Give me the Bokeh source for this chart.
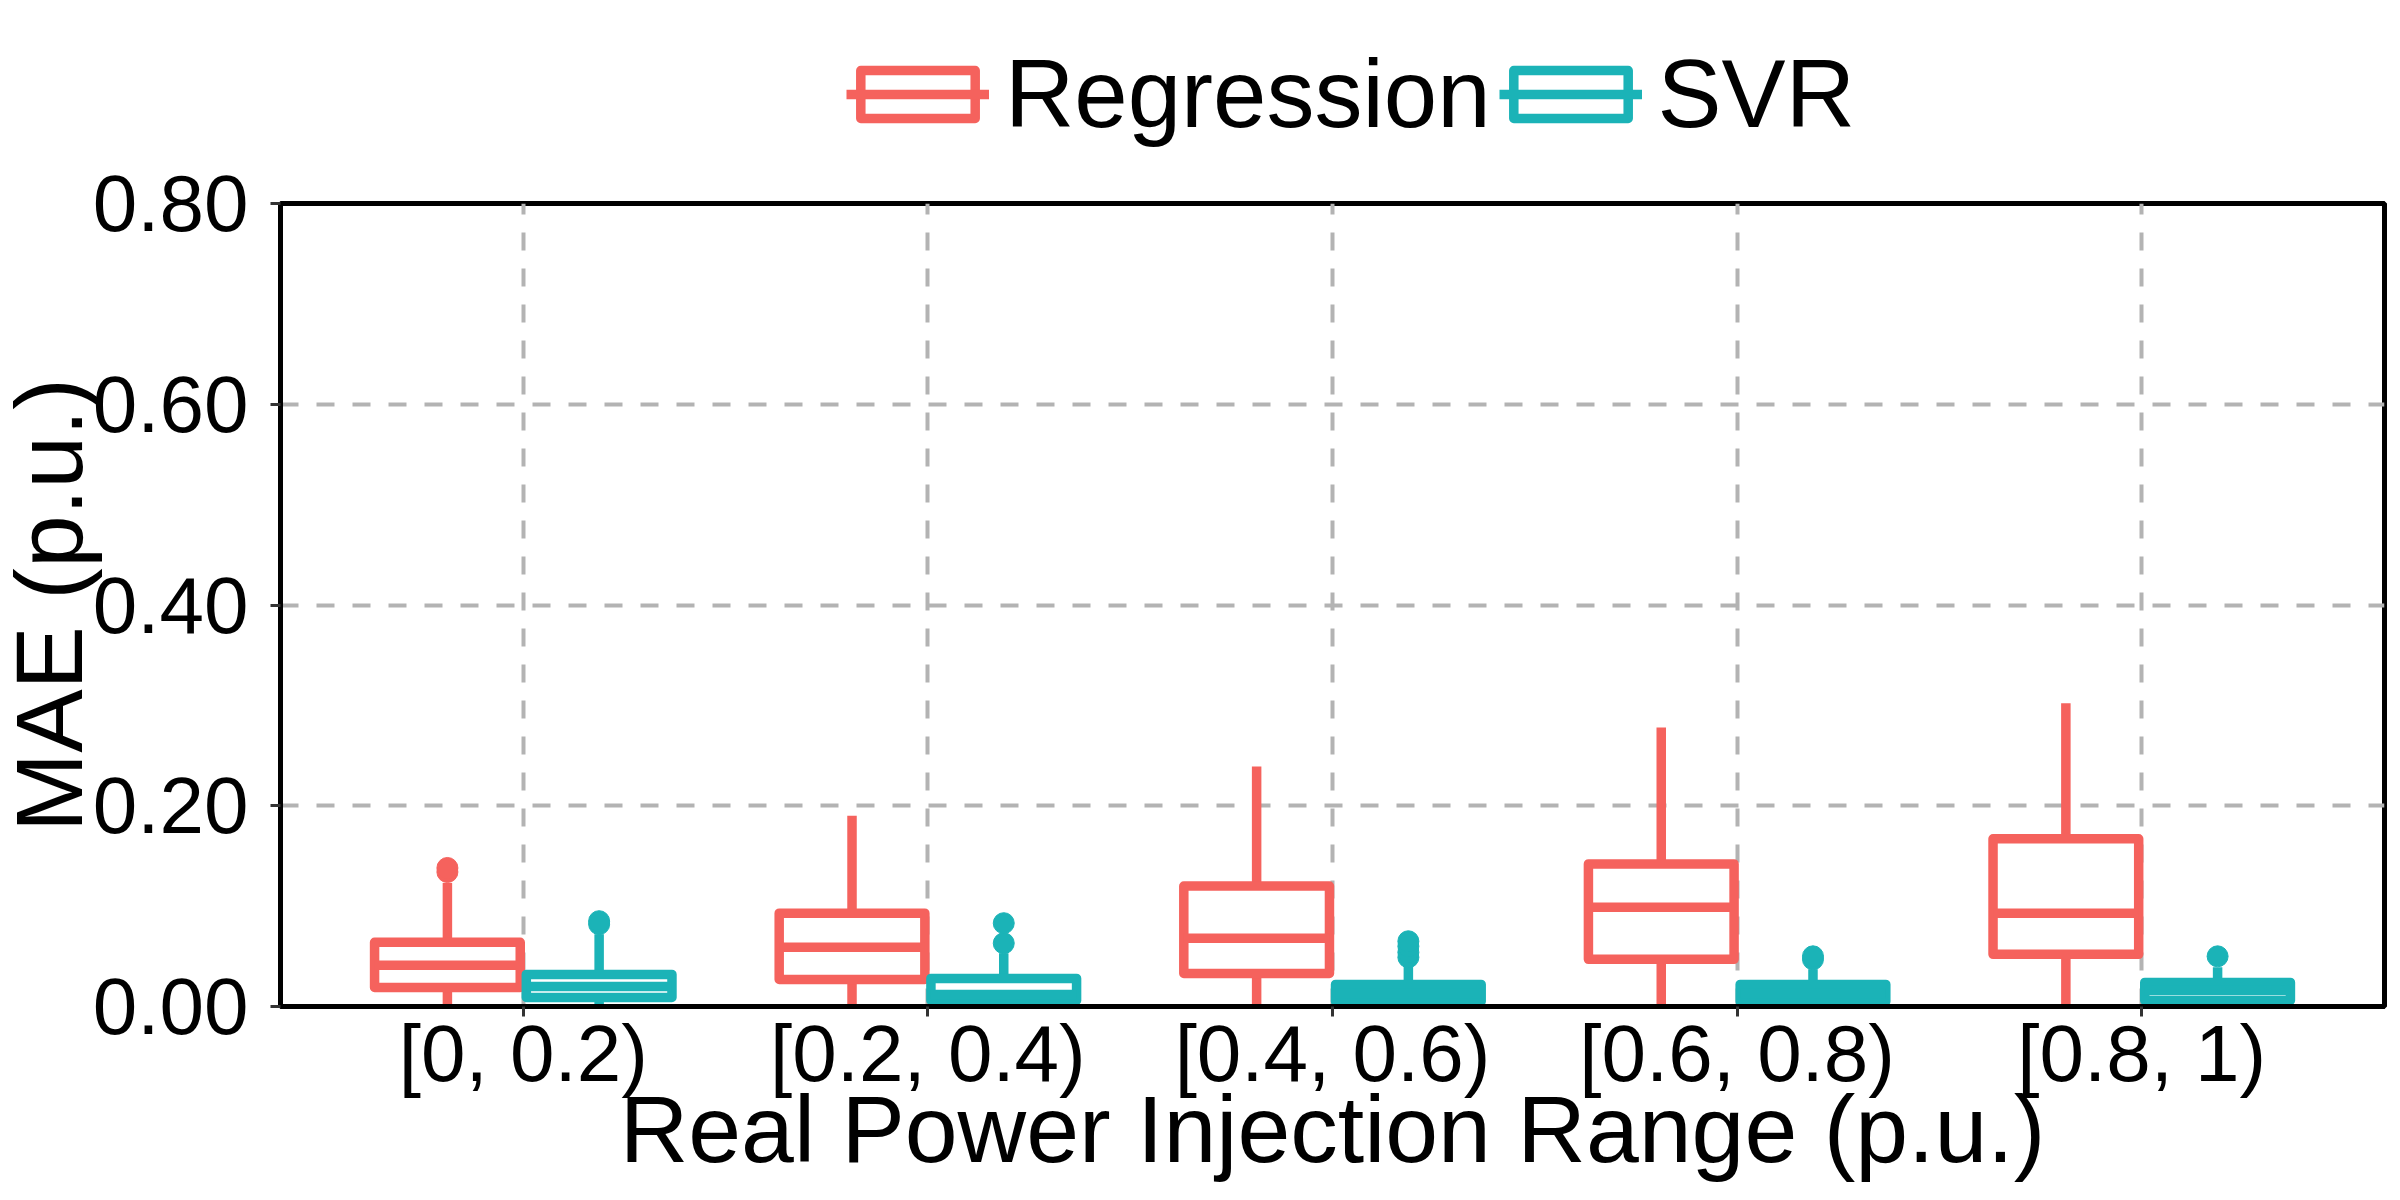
from bokeh.plotting import figure
from bokeh.layouts import column
from bokeh.models import (ColumnDataSource, FactorRange, Range1d, FixedTicker,
                          PrintfTickFormatter, Legend, LegendItem)
from bokeh.transform import dodge
from bokeh.embed import file_html
from bokeh.resources import INLINE

# ---------------- data ----------------
categories = ["[0, 0.2)", "[0.2, 0.4)", "[0.4, 0.6)", "[0.6, 0.8)", "[0.8, 1)"]

reg_low = [0.0, 0.0, 0.0, 0.0, 0.0]
reg_q1 = [0.019, 0.027, 0.033, 0.047, 0.052]
reg_med = [0.041, 0.059, 0.068, 0.099, 0.093]
reg_q3 = [0.064, 0.093, 0.120, 0.142, 0.167]
reg_high = [0.123, 0.190, 0.239, 0.278, 0.302]
reg_out_cat = ["[0, 0.2)", "[0, 0.2)"]
reg_out_val = [0.134, 0.138]

svr_low = [0.0, 0.0, 0.0, 0.0, 0.0]
svr_q1 = [0.009, 0.006, 0.005, 0.005, 0.006]
svr_med = [0.020, 0.012, 0.013, 0.013, 0.016]
svr_q3 = [0.032, 0.028, 0.022, 0.022, 0.024]
svr_high = [0.072, 0.053, 0.040, 0.037, 0.039]
svr_out_cat = ["[0, 0.2)", "[0, 0.2)", "[0.2, 0.4)", "[0.2, 0.4)",
               "[0.4, 0.6)", "[0.4, 0.6)", "[0.4, 0.6)", "[0.4, 0.6)",
               "[0.6, 0.8)", "[0.6, 0.8)", "[0.8, 1)"]
svr_out_val = [0.082, 0.085, 0.063, 0.083,
               0.049, 0.054, 0.060, 0.065,
               0.047, 0.050, 0.050]

series = [
    ("Regression", "#F5625D", -0.1875, reg_low, reg_q1, reg_med, reg_q3, reg_high, reg_out_cat, reg_out_val),
    ("SVR", "#1BB3B7", 0.1875, svr_low, svr_q1, svr_med, svr_q3, svr_high, svr_out_cat, svr_out_val),
]

FONT = "Liberation Sans"
LW = 9.5
W = 2400
LEG_H = 155
LEFT = 282

# ---------------- main plot ----------------
p = figure(x_range=FactorRange(*categories, range_padding=0.04),
           y_range=Range1d(0, 0.8),
           width=W, height=1184 - LEG_H,
           output_backend="svg", toolbar_location=None,
           min_border_left=LEFT, min_border_right=8,
           min_border_top=48, min_border_bottom=178)

p.background_fill_color = "white"
p.border_fill_color = "white"
p.outline_line_color = "black"
p.outline_line_width = 5
p.outline_line_alpha = 1.0

for g in (p.xgrid, p.ygrid):
    g.grid_line_color = "#B3B3B3"
    g.grid_line_width = 4
    g.grid_line_dash = "18 18"

p.yaxis.ticker = FixedTicker(ticks=[0.0, 0.2, 0.4, 0.6, 0.8])
p.yaxis.formatter = PrintfTickFormatter(format="%.2f")

for ax in (p.xaxis, p.yaxis):
    ax.axis_line_color = "black"
    ax.axis_line_width = 5
    ax.major_tick_out = 10
    ax.major_tick_in = 0
    ax.major_tick_line_width = 3
    ax.major_tick_line_color = "#333333"
    ax.minor_tick_line_color = None
    ax.major_label_text_font = FONT
    ax.major_label_text_font_size = "80px"
    ax.major_label_text_color = "black"
    ax.axis_label_text_font = FONT
    ax.axis_label_text_font_size = "95px"
    ax.axis_label_text_font_style = "normal"
    ax.axis_label_text_color = "black"

p.xaxis.axis_label = "Real Power Injection Range (p.u.)"
p.yaxis.axis_label = "MAE (p.u.)"
p.xaxis.major_label_standoff = -8
p.xaxis.axis_label_standoff = -25
p.yaxis.major_label_standoff = 22
p.yaxis.axis_label_standoff = -12

# ---------------- legend strip (separate figure above the plot) ----------------
lf = figure(x_range=FactorRange(*categories), y_range=Range1d(10, 11),
            width=W, height=LEG_H, output_backend="svg", toolbar_location=None,
            min_border_left=LEFT, min_border_right=8, min_border_top=0, min_border_bottom=0)
lf.axis.visible = False
lf.grid.visible = False
lf.outline_line_color = None
lf.background_fill_color = "white"
lf.border_fill_color = "white"

half = 0.18
items = []
for name, color, off, lo, q1, med, q3, hi, ocat, oval in series:
    src = ColumnDataSource(dict(cat=categories, lo=lo, q1=q1, med=med, q3=q3, hi=hi))
    xc = dodge("cat", off, range=p.x_range)
    p.segment(x0=xc, y0="q3", x1=xc, y1="hi", source=src,
              line_color=color, line_width=LW)
    p.segment(x0=xc, y0="q1", x1=xc, y1="lo", source=src,
              line_color=color, line_width=LW)
    p.vbar(x=xc, width=0.36, top="q3", bottom="q1", source=src,
           fill_color="white", line_color=color, line_width=LW,
           line_join="round")
    p.segment(x0=dodge("cat", off - half, range=p.x_range), y0="med",
              x1=dodge("cat", off + half, range=p.x_range), y1="med",
              source=src, line_color=color, line_width=LW)
    osrc = ColumnDataSource(dict(cat=ocat, val=oval))
    p.scatter(x=dodge("cat", off, range=p.x_range), y="val", source=osrc,
              size=21, fill_color=color, line_color=color)

    # same boxes in the legend strip, hidden; they only supply the legend icons
    lxc = dodge("cat", off, range=lf.x_range)
    lbox = lf.vbar(x=lxc, width=0.36, top="q3", bottom="q1", source=src,
                   fill_color="white", line_color=color, line_width=LW,
                   line_join="round", visible=False)
    lmed = lf.segment(x0=dodge("cat", off - half, range=lf.x_range), y0="med",
                      x1=dodge("cat", off + half, range=lf.x_range), y1="med",
                      source=src, line_color=color, line_width=LW, visible=False)
    items.append(LegendItem(label=name, renderers=[lbox, lmed]))

legend = Legend(items=items, orientation="horizontal",
                location=(848 - LEFT, 6),
                glyph_width=143, glyph_height=60,
                label_standoff=16, spacing=8, padding=0, margin=0,
                label_text_font=FONT, label_text_font_size="96px",
                label_text_color="black",
                inactive_fill_alpha=0.0,
                border_line_color=None, background_fill_alpha=0.0)
lf.add_layout(legend, "center")

layout = column(lf, p, spacing=0)
layout.margin = (0, 0, 0, -8)

open("out.html", "w").write(file_html(layout, INLINE))
